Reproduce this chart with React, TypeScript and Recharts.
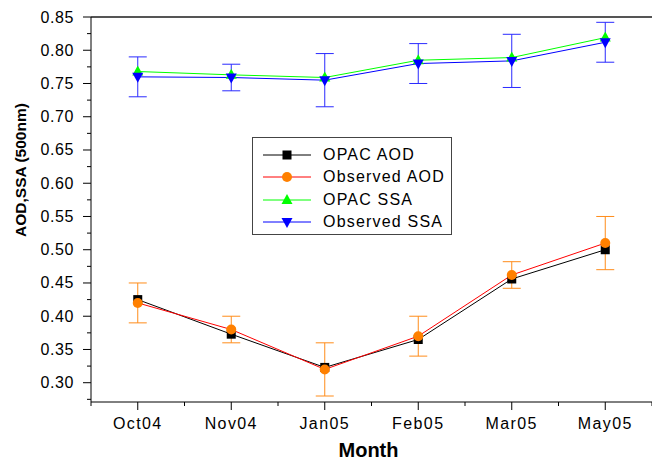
import { LineChart, Line, XAxis, YAxis, ErrorBar, ReferenceLine, Legend } from 'recharts';

const months = ['Oct04', 'Nov04', 'Jan05', 'Feb05', 'Mar05', 'May05'];
const opacAod = [0.425, 0.373, 0.323, 0.365, 0.456, 0.5];
const obsAod = [0.42, 0.38, 0.32, 0.37, 0.462, 0.51];
const obsAodErr = [0.03, 0.02, 0.04, 0.03, 0.02, 0.04];
const opacSsa = [0.768, 0.763, 0.759, 0.785, 0.789, 0.819];
const obsSsa = [0.76, 0.759, 0.755, 0.78, 0.784, 0.812];
const obsSsaErr = [0.03, 0.02, 0.04, 0.03, 0.04, 0.03];

const yMajor = [0.3, 0.35, 0.4, 0.45, 0.5, 0.55, 0.6, 0.65, 0.7, 0.75, 0.8, 0.85];
const yMinor = [0.275, 0.325, 0.375, 0.425, 0.475, 0.525, 0.575, 0.625, 0.675, 0.725, 0.775, 0.825];
const xTicks = [-0.5, 0, 0.5, 1, 1.5, 2, 2.5, 3, 3.5, 4, 4.5, 5, 5.5];

const data = months.map((m, i) => ({
  idx: i,
  month: m,
  opacAod: opacAod[i],
  obsAod: obsAod[i],
  obsAodErr: obsAodErr[i],
  opacSsa: opacSsa[i],
  obsSsa: obsSsa[i],
  obsSsaErr: obsSsaErr[i],
}));

const FONT = '"Liberation Sans", Arial, Helvetica, sans-serif';

type Shape = 'square' | 'circle' | 'up' | 'down';

const series: { key: string; name: string; line: string; fill: string; shape: Shape }[] = [
  { key: 'opacAod', name: 'OPAC AOD', line: '#000000', fill: '#000000', shape: 'square' },
  { key: 'obsAod', name: 'Observed AOD', line: '#ff0000', fill: '#ff8000', shape: 'circle' },
  { key: 'opacSsa', name: 'OPAC SSA', line: '#00ff00', fill: '#00ff00', shape: 'up' },
  { key: 'obsSsa', name: 'Observed SSA', line: '#0000ff', fill: '#0000ff', shape: 'down' },
];

function Marker({ shape, cx, cy, fill }: { shape: Shape; cx: number; cy: number; fill: string }) {
  if (shape === 'square') return <rect x={cx - 4.5} y={cy - 4.5} width={9} height={9} fill={fill} />;
  if (shape === 'circle') return <circle cx={cx} cy={cy} r={5} fill={fill} />;
  if (shape === 'up')
    return <polygon points={`${cx},${cy - 6} ${cx + 5.5},${cy + 4} ${cx - 5.5},${cy + 4}`} fill={fill} />;
  return <polygon points={`${cx - 5.5},${cy - 4} ${cx + 5.5},${cy - 4} ${cx},${cy + 6}`} fill={fill} />;
}

const isMajor = (v: number) => yMajor.some((t) => Math.abs(t - v) < 1e-6);

function YTick({ x, y, payload }: any) {
  const major = isMajor(payload.value);
  return (
    <g>
      <line x1={x} x2={x - (major ? 8 : 4)} y1={y} y2={y} stroke="#000" />
      {major && (
        <text
          x={x - 17}
          y={y}
          dy={5.5}
          textAnchor="end"
          fontSize={16}
          letterSpacing={0.6}
          fill="#000"
          fontFamily={FONT}
        >
          {payload.value.toFixed(2)}
        </text>
      )}
    </g>
  );
}

function XTick({ x, y, payload }: any) {
  const v = payload.value;
  const major = Number.isInteger(v);
  return (
    <g>
      <line x1={x} x2={x} y1={y} y2={y + (major ? 8 : 4)} stroke="#000" />
      {major && (
        <text
          x={x}
          y={y + 27}
          textAnchor="middle"
          fontSize={16}
          letterSpacing={1.4}
          fill="#000"
          fontFamily={FONT}
        >
          {months[v]}
        </text>
      )}
    </g>
  );
}

function YTitle() {
  return (
    <text
      x={20}
      y={170}
      transform="rotate(-90, 20, 170)"
      dy={5.5}
      textAnchor="middle"
      fontSize={15.5}
      fontWeight="bold"
      fill="#000"
      fontFamily={FONT}
    >
      AOD,SSA (500nm)
    </text>
  );
}

function XTitle({ viewBox }: any) {
  const cx = viewBox ? viewBox.x + viewBox.width / 2 : 368;
  return (
    <text x={cx - 3} y={457} textAnchor="middle" fontSize={20} fontWeight="bold" fill="#000" fontFamily={FONT}>
      Month
    </text>
  );
}

function LegendBox() {
  return (
    <div
      style={{
        width: 200,
        height: 98,
        border: '1.5px solid #444',
        background: '#fff',
        boxSizing: 'border-box',
        paddingTop: 6,
        fontFamily: FONT,
      }}
    >
      {series.map((s) => (
        <div key={s.key} style={{ display: 'flex', alignItems: 'center', height: 22.3 }}>
          <svg width={70} height={22} style={{ flexShrink: 0 }}>
            <line x1={10} x2={58} y1={11} y2={11} stroke={s.line} strokeWidth={1} />
            <Marker shape={s.shape} cx={34} cy={11} fill={s.fill} />
          </svg>
          <span style={{ fontSize: 16, letterSpacing: 1.2, color: '#000', whiteSpace: 'nowrap' }}>{s.name}</span>
        </div>
      ))}
    </div>
  );
}

export default function App() {
  return (
    <div style={{ position: 'absolute', left: 0, top: 0, width: 652, height: 460, background: '#fff' }}>
      <LineChart width={652} height={460} data={data} margin={{ top: 17, right: 0, left: 0, bottom: 0 }}>
        <XAxis
          dataKey="idx"
          type="number"
          domain={[-0.5, 5.5]}
          ticks={xTicks}
          interval={0}
          height={58}
          tickSize={0}
          tickMargin={0}
          tickLine={false}
          tick={<XTick />}
          axisLine={{ stroke: '#000', strokeWidth: 1 }}
          allowDataOverflow
          label={<XTitle />}
        />
        <YAxis
          type="number"
          domain={[0.271, 0.85]}
          ticks={[...yMinor, ...yMajor].sort((a, b) => a - b)}
          interval={0}
          width={91}
          tickSize={0}
          tickMargin={0}
          tickLine={false}
          tick={<YTick />}
          axisLine={{ stroke: '#000', strokeWidth: 1 }}
          allowDataOverflow
          label={<YTitle />}
        />
        <ReferenceLine y={0.85} stroke="#555" strokeWidth={2} />
        {series.map((s) => (
          <Line
            key={s.key}
            dataKey={s.key}
            name={s.name}
            stroke={s.line}
            strokeWidth={1}
            isAnimationActive={false}
            dot={(p: any) => <Marker key={`${s.key}-${p.index}`} shape={s.shape} cx={p.cx} cy={p.cy} fill={s.fill} />}
            activeDot={false}
          >
            {s.key === 'obsAod' && (
              <ErrorBar dataKey="obsAodErr" width={9} stroke="#ff8c1a" strokeWidth={1} direction="y" isAnimationActive={false} />
            )}
            {s.key === 'obsSsa' && (
              <ErrorBar dataKey="obsSsaErr" width={9} stroke="#2a2aff" strokeWidth={1} direction="y" isAnimationActive={false} />
            )}
          </Line>
        ))}
        <Legend
          layout="vertical"
          align="center"
          verticalAlign="middle"
          content={<LegendBox />}
          wrapperStyle={{ position: 'absolute', left: 252, top: 137, width: 202, height: 100 }}
        />
      </LineChart>
    </div>
  );
}
